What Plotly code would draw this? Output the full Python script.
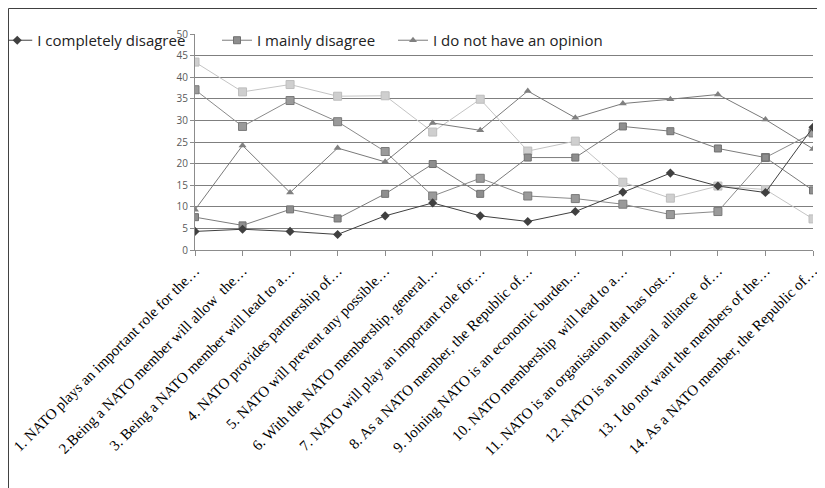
import plotly.graph_objects as go

categories = [
    "1. NATO plays an important role for the…",
    "2.Being a NATO member will allow  the…",
    "3. Being a NATO member will lead to a…",
    "4. NATO provides partnership of…",
    "5. NATO will prevent any possible…",
    "6. With the NATO membership, general…",
    "7. NATO will play an important role for…",
    "8. As a NATO member, the Republic of…",
    "9. Joining NATO is an economic burden…",
    "10. NATO membership  will lead to a…",
    "11. NATO is an organisation that has lost…",
    "12. NATO is an unnatural  alliance  of…",
    "13. I do not want the members of the…",
    "14. As a NATO member, the Republic of…",
]

completely_disagree = [4.3, 4.8, 4.3, 3.6, 7.9, 10.9, 7.9, 6.6, 8.9, 13.4, 17.8, 14.8, 13.3, 28.4]
mainly_disagree = [7.6, 5.7, 9.4, 7.3, 13.0, 19.9, 13.0, 21.4, 21.4, 28.6, 27.5, 23.5, 21.4, 13.8]
no_opinion = [9.3, 24.2, 13.3, 23.6, 20.4, 29.4, 27.7, 36.8, 30.6, 33.9, 34.9, 36.0, 30.2, 23.4]
mainly_agree = [37.1, 28.6, 34.6, 29.7, 22.8, 12.5, 16.6, 12.5, 11.9, 10.6, 8.2, 8.9, 21.4, 27.1]
completely_agree = [43.5, 36.6, 38.3, 35.6, 35.7, 27.3, 34.9, 22.9, 25.2, 15.7, 12.0, 14.8, 14.0, 7.2]

y_ticks = [0, 5, 10, 15, 20, 25, 30, 35, 40, 45, 50]

fig = go.Figure()

fig.add_trace(go.Scatter(
    x=categories, y=mainly_agree, name="I mainly agree", mode="lines+markers",
    line=dict(color="#8a8a8a", width=1),
    marker=dict(symbol="square", size=8, color="#9a9a9a", line=dict(color="#7a7a7a", width=1)),
    showlegend=False))
fig.add_trace(go.Scatter(
    x=categories, y=completely_agree, name="I completely agree", mode="lines+markers",
    line=dict(color="#c4c4c4", width=1),
    marker=dict(symbol="square", size=8, color="#cfcfcf", line=dict(color="#bdbdbd", width=1)),
    showlegend=False))
fig.add_trace(go.Scatter(
    x=categories, y=no_opinion, name="I do not have an opinion", mode="lines+markers",
    line=dict(color="#7a7a7a", width=1),
    marker=dict(symbol="triangle-up", size=7, color="#808080"),
    legend="legend3"))
fig.add_trace(go.Scatter(
    x=categories, y=mainly_disagree, name="I mainly disagree", mode="lines+markers",
    line=dict(color="#7c7c7c", width=1),
    marker=dict(symbol="square", size=7, color="#8e8e8e", line=dict(color="#707070", width=1)),
    legend="legend2"))
fig.add_trace(go.Scatter(
    x=categories, y=completely_disagree, name="I completely disagree", mode="lines+markers",
    line=dict(color="#404040", width=1),
    marker=dict(symbol="diamond", size=7, color="#404040"),
    legend="legend"))

leg_common = dict(
    orientation="h", yanchor="middle", xanchor="left",
    bgcolor="rgba(0,0,0,0)", itemwidth=30,
    font=dict(family="Open Sans", size=15, color="#222222"),
)

fig.update_layout(
    width=825, height=488,
    margin=dict(l=187, r=20, t=26, b=246, autoexpand=False),
    paper_bgcolor="white", plot_bgcolor="white",
    legend=dict(x=-0.320, y=0.97, **leg_common),
    legend2=dict(x=0.0356, y=0.97, **leg_common),
    legend3=dict(x=0.3204, y=0.97, **leg_common),
    xaxis=dict(
        type="category", range=[0, 13], showgrid=False, automargin=False,
        showline=True, linecolor="#8c8c8c", linewidth=1,
        ticks="outside", ticklen=5, tickcolor="#8c8c8c",
        tickangle=-45, tickfont=dict(family="Liberation Serif", size=15, color="#000000"),
    ),
    yaxis=dict(
        range=[0, 50], tickvals=y_ticks, showgrid=True, gridcolor="#7f7f7f", gridwidth=1,
        showline=True, linecolor="#8c8c8c", linewidth=1, automargin=False,
        ticks="outside", ticklen=4, tickcolor="#8c8c8c",
        tickfont=dict(family="Open Sans", size=10, color="#595959"),
        zeroline=False,
    ),
    shapes=[dict(type="rect", xref="paper", yref="paper",
                 x0=-0.3018, x1=1.0178, y0=-1.15, y1=1.118,
                 line=dict(color="#404040", width=1), fillcolor="rgba(0,0,0,0)")],
)

fig.write_html("out.html")
